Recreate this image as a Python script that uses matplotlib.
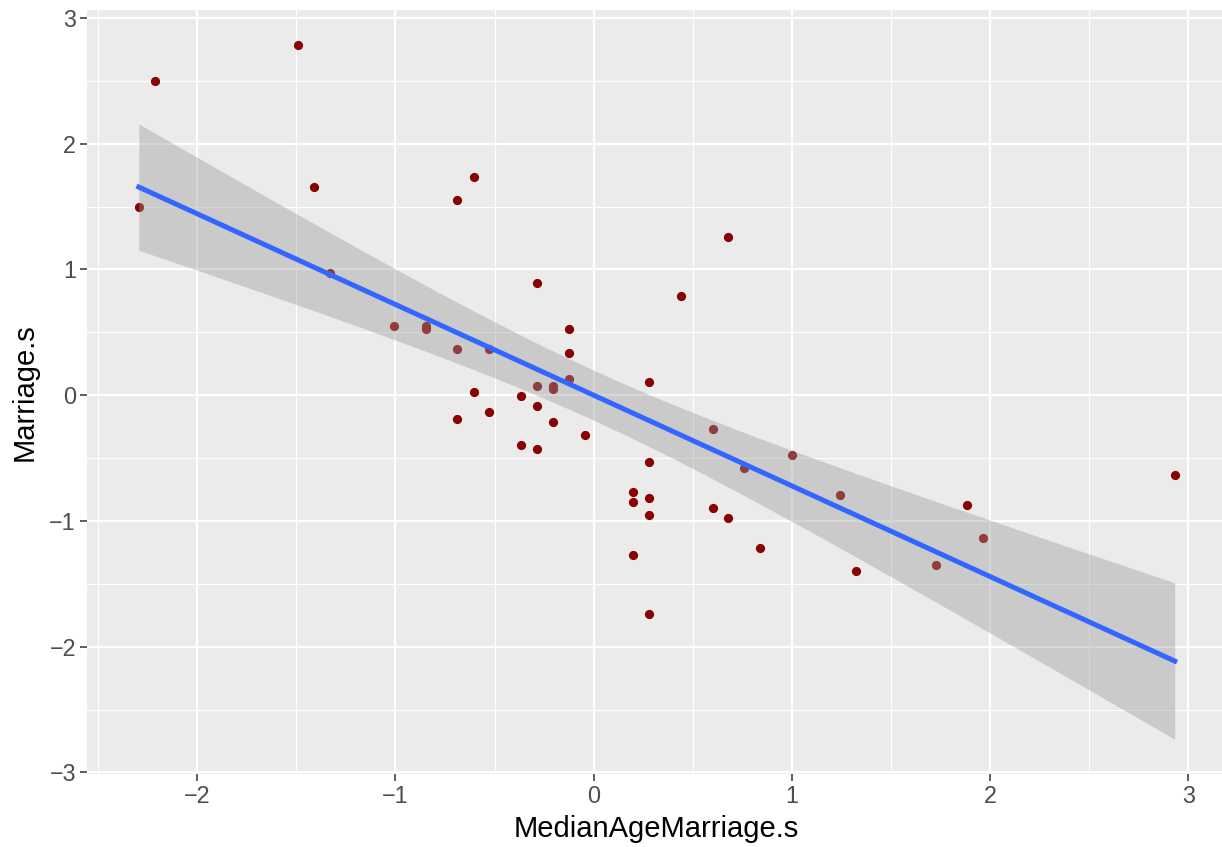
import numpy as np
import matplotlib.pyplot as plt

# standardized WaffleDivorce variables (one value per state)
median_age_s = [-0.606, -0.687, -0.204, -1.410, 0.600, -0.285, 1.243, 0.439, 2.932, 0.278,
                -0.124, 0.680, -2.295, 0.761, -0.285, -0.526, -0.848, -1.008, -0.124, 0.278,
                1.002, 1.967, 0.278, 0.198, -0.204, -0.365, -0.285, -0.526, 0.600, 1.324,
                -0.204, 1.886, -0.285, -0.606, 0.198, -1.330, -0.043, 0.841, 1.726, 0.278,
                -0.365, -0.687, -0.687, -2.215, 0.680, 0.278, -0.124, -0.848, 0.198, -1.491]
marriage_s = [0.023, 1.550, 0.049, 1.655, -0.267, 0.892, -0.794, 0.786, -0.636, -0.820,
              0.523, 1.260, 1.497, -0.583, -0.083, 0.365, 0.523, 0.549, 0.128, -1.742,
              -0.478, -1.136, -0.952, -1.268, -0.214, -0.399, -0.425, -0.135, -0.899, -1.399,
              0.075, -0.873, 0.075, 1.734, -0.846, 0.971, -0.320, -1.215, -1.347, -0.530,
              -0.004, -0.188, 0.365, 2.498, -0.978, 0.102, 0.339, 0.549, -0.767, 2.787]

x = np.array(median_age_s)
y = np.array(marriage_s)
n = len(x)

# linear fit with 95% confidence band (t quantile for df = 48)
slope, intercept = np.polyfit(x, y, 1)
resid = y - (intercept + slope * x)
s = np.sqrt(np.sum(resid ** 2) / (n - 2))
sxx = np.sum((x - x.mean()) ** 2)
t_crit = 2.0106
xs = np.linspace(x.min(), x.max(), 80)
fit = intercept + slope * xs
se = s * np.sqrt(1 / n + (xs - x.mean()) ** 2 / sxx)
lo, hi = fit - t_crit * se, fit + t_crit * se

plt.rcParams['font.family'] = ['Liberation Sans', 'DejaVu Sans']
fig = plt.figure(figsize=(12.22, 8.47), dpi=100)
ax = fig.add_axes([87 / 1222, 73 / 847, 1139.5 / 1222, 764 / 847])
ax.set_facecolor('#EBEBEB')

ax.scatter(x, y, s=44, color='#8B0000', linewidths=0, zorder=3)
ax.fill_between(xs, lo, hi, color='#999999', alpha=0.4, linewidth=0, zorder=4)
ax.plot(xs, fit, color='#3366FF', linewidth=3.6, zorder=5)

ax.set_xticks([-2, -1, 0, 1, 2, 3])
ax.set_yticks([-3, -2, -1, 0, 1, 2, 3])
ax.set_xticklabels(['\u22122', '\u22121', '0', '1', '2', '3'])
ax.set_yticklabels(['\u22123', '\u22122', '\u22121', '0', '1', '2', '3'])
ax.set_xticks(np.arange(-2.5, 3.0, 1.0), minor=True)
ax.set_yticks(np.arange(-2.5, 3.0, 1.0), minor=True)

# ggplot-style 5% expansion, applied after the ticks so they don't widen it
xr = x.max() - x.min()
ax.set_xlim(x.min() - 0.05 * xr, x.max() + 0.05 * xr)
ymin, ymax = min(y.min(), lo.min()), max(y.max(), hi.max())
yr = ymax - ymin
ax.set_ylim(ymin - 0.05 * yr, ymax + 0.05 * yr)

ax.grid(which='major', color='white', linewidth=1.6, zorder=0)
ax.grid(which='minor', color='white', linewidth=0.8, zorder=0)
ax.set_axisbelow(True)
for sp in ax.spines.values():
    sp.set_visible(False)
ax.tick_params(which='major', length=5, width=1.1, color='#333333',
               labelsize=16.8, labelcolor='#4D4D4D', pad=3)
ax.tick_params(which='minor', length=0)

ax.set_xlabel('MedianAgeMarriage.s', fontsize=21, labelpad=5)
ax.set_ylabel('Marriage.s', fontsize=21, labelpad=8)

fig.savefig('out.png', dpi=100)
